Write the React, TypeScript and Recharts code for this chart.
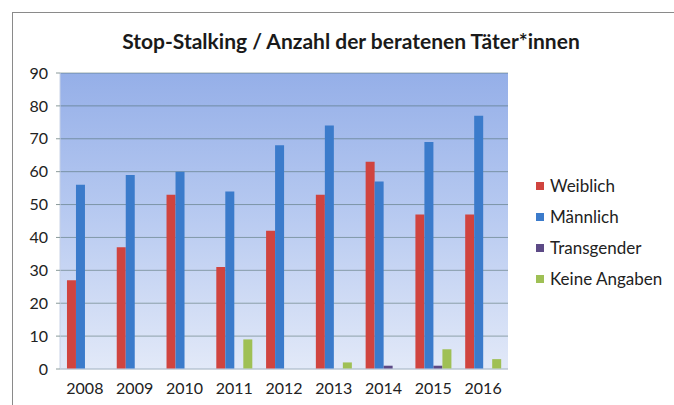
import React from 'react';
import { BarChart, Bar, XAxis, YAxis, CartesianGrid } from 'recharts';

const years = ['2008', '2009', '2010', '2011', '2012', '2013', '2014', '2015', '2016'];
const weiblich = [27, 37, 53, 31, 42, 53, 63, 47, 47];
const maennlich = [56, 59, 60, 54, 68, 74, 57, 69, 77];
const transgender = [0, 0, 0, 0, 0, 0, 1, 1, 0];
const keineAngaben = [0, 0, 0, 9, 0, 2, 0, 6, 3];
const yTicks = [0, 10, 20, 30, 40, 50, 60, 70, 80, 90];

const SERIES = [
  { key: 'weiblich', name: 'Weiblich', color: '#d0443f' },
  { key: 'maennlich', name: 'Männlich', color: '#3b7bcb' },
  { key: 'transgender', name: 'Transgender', color: '#5c4a86' },
  { key: 'keine', name: 'Keine Angaben', color: '#9fc055' },
];

const data = years.map((year, i) => ({
  year,
  weiblich: weiblich[i],
  maennlich: maennlich[i],
  transgender: transgender[i],
  keine: keineAngaben[i],
}));

const FONT = "Lato, 'Open Sans', sans-serif";

// legend drawn beside the chart, Excel style
function LegendBox() {
  return (
    <div style={{ position: 'absolute', left: 536, top: 170, fontFamily: FONT, fontSize: 17, color: '#222' }}>
      {SERIES.map(s => (
        <div key={s.key} style={{ display: 'flex', alignItems: 'center', height: 31 }}>
          <span style={{ width: 8, height: 8, background: s.color, marginRight: 6, display: 'inline-block' }} />
          {s.name}
        </div>
      ))}
    </div>
  );
}

export default function App() {
  return (
    <div style={{ position: 'fixed', left: 0, top: 0, width: 674, height: 405, background: '#fff', overflow: 'hidden' }}>
      {/* frame */}
      <div style={{ position: 'absolute', left: 12, top: 12, width: 700, height: 420, borderTop: '1px solid #8a8a8a', borderLeft: '1px solid #8a8a8a' }} />
      <div style={{ position: 'absolute', left: 0, width: 702, top: 28, textAlign: 'center', fontFamily: FONT, fontWeight: 700, fontSize: 21, color: '#1a1a1a' }}>
        Stop-Stalking / Anzahl der beratenen Täter*innen
      </div>
      <BarChart
        width={674}
        height={405}
        data={data}
        margin={{ top: 73, right: 166, bottom: 6, left: 12 }}
        barCategoryGap="14%"
        barGap={0}
        style={{ position: 'absolute', left: 0, top: 0 }}
      >
        <defs>
          <linearGradient id="plotBg" x1="0" y1="0" x2="0" y2="1">
            <stop offset="0%" stopColor="#95afe8" />
            <stop offset="45%" stopColor="#b5c8f0" />
            <stop offset="100%" stopColor="#e2e9f8" />
          </linearGradient>
        </defs>
        <CartesianGrid
          vertical={false}
          fill="url(#plotBg)"
          fillOpacity={1}
          stroke="rgba(70,100,95,0.5)"
        />
        <XAxis
          dataKey="year"
          height={30}
          tick={{ fontSize: 16, fill: '#222', fontFamily: FONT }}
          axisLine={{ stroke: '#c8d2e6' }}
          tickLine={false}
          tickMargin={8}
        />
        <YAxis
          width={48}
          domain={[0, 90]}
          ticks={yTicks}
          interval={0}
          tick={{ fontSize: 16, fill: '#222', fontFamily: FONT }}
          axisLine={{ stroke: '#c8d2e6' }}
          tickLine={{ stroke: '#8a9a9a' }}
          tickSize={4}
          tickMargin={8}
        />
        {SERIES.map(s => (
          <Bar key={s.key} dataKey={s.key} name={s.name} fill={s.color} isAnimationActive={false} />
        ))}
      </BarChart>
      <LegendBox />
    </div>
  );
}
